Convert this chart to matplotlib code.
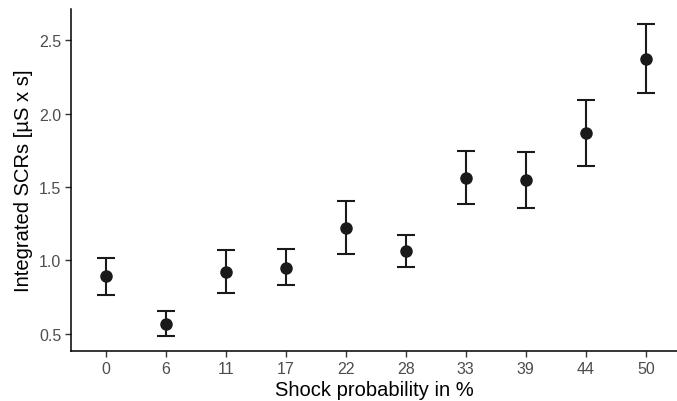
import numpy as np
import matplotlib
matplotlib.use("Agg")
import matplotlib.pyplot as plt

plt.rcParams['font.family'] = ['Liberation Sans', 'DejaVu Sans']

# shock probability (%) and integrated SCRs with error bounds
probs = ['0', '6', '11', '17', '22', '28', '33', '39', '44', '50']
means = [0.892, 0.570, 0.924, 0.951, 1.223, 1.062, 1.563, 1.548, 1.869, 2.371]
upper = [1.019, 0.654, 1.074, 1.076, 1.405, 1.171, 1.745, 1.740, 2.094, 2.609]
lower = [0.765, 0.484, 0.777, 0.831, 1.042, 0.956, 1.382, 1.355, 1.645, 2.137]

means = np.array(means)
yerr = np.vstack([means - np.array(lower), np.array(upper) - means])
xpos = np.arange(1, len(probs) + 1)

fig = plt.figure(figsize=(6.77, 4.02), dpi=100)
ax = fig.add_axes([0.1049, 0.1244, 0.8951, 0.8506])

ax.errorbar(xpos, means, yerr=yerr, fmt='none', ecolor='#1a1a1a',
            elinewidth=1.5, capsize=6.3, capthick=1.5)
ax.plot(xpos, means, 'o', color='#1a1a1a', markersize=8)

ax.set_xlim(0.42, 10.52)
ax.set_ylim(0.384, 2.711)
ax.set_xticks(xpos)
ax.set_xticklabels(probs)
ax.set_yticks([0.5, 1.0, 1.5, 2.0, 2.5])
ax.set_yticklabels(['0.5', '1.0', '1.5', '2.0', '2.5'])

for s in ['top', 'right']:
    ax.spines[s].set_visible(False)
for s in ['left', 'bottom']:
    ax.spines[s].set_linewidth(1.1)
    ax.spines[s].set_color('black')

ax.tick_params(axis='both', length=4.5, width=1.0, color='#333333',
               labelsize=11.5, labelcolor='#4d4d4d', pad=2.5)

ax.set_xlabel('Shock probability in %', fontsize=14.5, color='black', labelpad=3)
ax.set_ylabel('Integrated SCRs [µS x s]', fontsize=14.5, color='black', labelpad=4)

fig.savefig('out.png', dpi=100)
